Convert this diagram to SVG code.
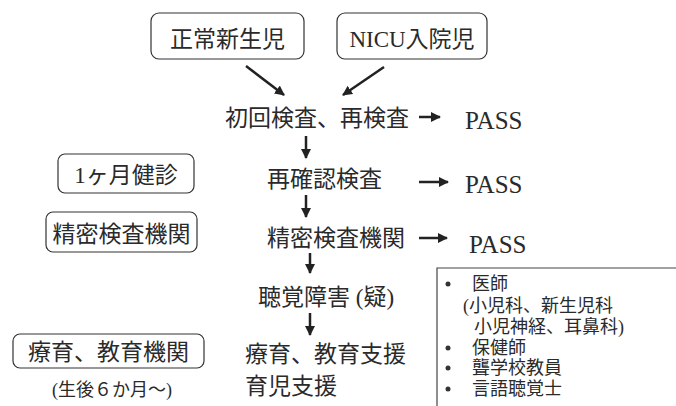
<svg xmlns="http://www.w3.org/2000/svg" width="676" height="406" viewBox="0 0 676 406">
<defs>
<marker id="ah" viewBox="0 0 10 10" refX="9" refY="5" markerWidth="4" markerHeight="4" orient="auto" markerUnits="strokeWidth">
<path d="M0,0 L10,5 L0,10 z" fill="#222"/>
</marker>
<style>
.box{fill:#fff;stroke:#333;stroke-width:1.2}
.t{font-family:"Liberation Serif","Noto Sans CJK JP",serif;font-size:23px;fill:#2a2a2a}
.s{font-family:"Liberation Serif","Noto Sans CJK JP",serif;font-size:18px;fill:#2a2a2a}
.p{font-family:"Liberation Serif",serif;font-size:25px;fill:#2a2a2a}
.c{stroke:#222;stroke-width:2.5;fill:none;marker-end:url(#ah)}
</style>
</defs>
<rect width="676" height="406" fill="#fff"/>
<g id="n-seijou">
<rect class="box" x="151" y="13" width="153" height="46" rx="8"/>
<text class="t" x="227.5" y="47" text-anchor="middle">正常新生児</text>
</g>
<g id="n-nicu">
<rect class="box" x="337" y="13" width="150" height="46" rx="8"/>
<text class="t" x="412" y="47" text-anchor="middle">NICU入院児</text>
</g>
<g id="n-shokai">
<text class="t" x="225" y="126">初回検査、再検査</text>
</g>
<g id="n-pass1"><text class="p" x="465" y="129">PASS</text></g>
<g id="n-kakunin"><text class="t" x="267" y="187">再確認検査</text></g>
<g id="n-pass2"><text class="p" x="465" y="193">PASS</text></g>
<g id="n-seimitsu"><text class="t" x="267" y="246">精密検査機関</text></g>
<g id="n-pass3"><text class="p" x="469" y="253">PASS</text></g>
<g id="n-choukaku"><text class="t" x="258" y="305">聴覚障害 (疑)</text></g>
<g id="n-shien">
<text class="t" x="245" y="362">療育、教育支援</text>
<text class="t" x="245" y="394">育児支援</text>
</g>
<g id="n-1kagetsu">
<rect class="box" x="58" y="154" width="136" height="39" rx="7"/>
<text class="t" x="126" y="183" text-anchor="middle">1ヶ月健診</text>
</g>
<g id="n-seimitsu-kikan">
<rect class="box" x="46" y="212" width="151" height="40" rx="7"/>
<text class="t" x="121.5" y="242" text-anchor="middle">精密検査機関</text>
</g>
<g id="n-ryouiku">
<rect class="box" x="13" y="334" width="191" height="34" rx="7"/>
<text class="t" x="108.5" y="360" text-anchor="middle">療育、教育機関</text>
<text class="s" x="112" y="396" text-anchor="middle" font-size="17">(生後６か月〜)</text>
</g>
<g id="n-staff">
<path d="M676,268 H437 V406" fill="none" stroke="#444" stroke-width="1.2"/>
<circle cx="448" cy="284" r="2.5" fill="#333"/>
<circle cx="448" cy="348" r="2.5" fill="#333"/>
<circle cx="448" cy="368" r="2.5" fill="#333"/>
<circle cx="448" cy="389" r="2.5" fill="#333"/>
<text class="s" x="472" y="290">医師</text>
<text class="s" x="463" y="312">(小児科、新生児科</text>
<text class="s" x="474" y="333">小児神経、耳鼻科)</text>
<text class="s" x="472" y="354">保健師</text>
<text class="s" x="472" y="374">聾学校教員</text>
<text class="s" x="472" y="395">言語聴覚士</text>
</g>
<g id="connectors">
<line class="c" x1="246" y1="66" x2="284" y2="95"/>
<line class="c" x1="384" y1="67" x2="343" y2="95"/>
<line class="c" x1="419" y1="117" x2="440" y2="117"/>
<line class="c" x1="306" y1="136" x2="306" y2="158"/>
<line class="c" x1="419" y1="182" x2="448" y2="182"/>
<line class="c" x1="306" y1="195" x2="306" y2="217"/>
<line class="c" x1="419" y1="238" x2="447" y2="238"/>
<line class="c" x1="310" y1="253" x2="310" y2="273"/>
<line class="c" x1="310" y1="313" x2="310" y2="335"/>
</g>
</svg>
